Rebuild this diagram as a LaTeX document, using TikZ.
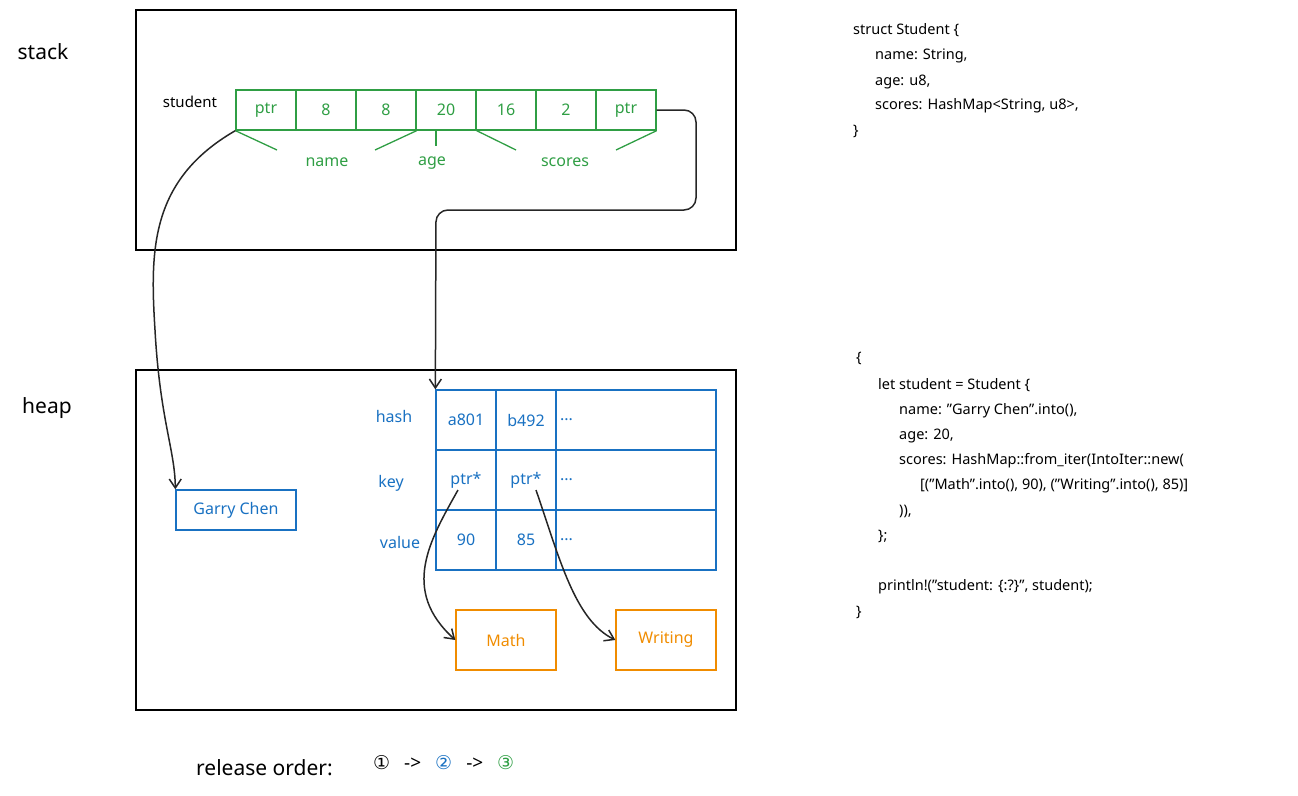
\documentclass[tikz,border=0pt]{standalone}
\usepackage{fontspec}
\usetikzlibrary{arrows.meta}
\setmainfont{Noto Sans}
\newfontfamily\symfont{DejaVu Sans}
\definecolor{sgreen}{HTML}{2F9E44}
\definecolor{hblue}{HTML}{1971C2}
\definecolor{sorange}{HTML}{F08C00}
\newcommand\etcdots{...}
\newcommand\dq{{\char34}}
\tikzset{
  frame/.style={draw, line width=1.3pt},
  cell/.style={draw=sgreen, line width=1.3pt, minimum width=60pt, minimum height=40pt, text=sgreen, font=\fontsize{16}{20}\selectfont, inner sep=0pt},
  hcell/.style={draw=hblue, line width=1.3pt, minimum width=60pt, minimum height=60pt, text=hblue, font=\fontsize{16}{20}\selectfont, inner sep=0pt},
  blab/.style={text=hblue, font=\fontsize{16}{20}\selectfont},
  glab/.style={text=sgreen, font=\fontsize{16}{20}\selectfont},
  obox/.style={draw=sorange, line width=1.3pt, minimum width=100pt, minimum height=60pt, text=sorange, font=\fontsize{16}{20}\selectfont},
  code/.style={anchor=west, font=\fontsize{14.5}{18}\selectfont, inner sep=0pt},
  link/.style={-{Straight Barb[length=9pt,width=12pt]}, line width=1.5pt, black!85},
}
\begin{document}
\begin{tikzpicture}[x=1pt, y=-1pt]
  \useasboundingbox (0,0) rectangle (1298,795);

  % stack and heap frames
  \draw[frame] (136,10) rectangle (736,250);
  \draw[frame] (136,370) rectangle (736,710);
  \node[font=\fontsize{21}{26}\selectfont] (stack) at (43,52) {stack};
  \node[font=\fontsize{21}{26}\selectfont] (heap) at (47,408) {heap};

  % student on the stack
  \node[font=\fontsize{15}{19}\selectfont] (student) at (190,102) {student};
  \foreach \t [count=\i] in {ptr,8,8,20,16,2,ptr}
    \node[cell] (s\i) at (206+60*\i,110) {\t};
  \draw[sgreen, line width=1.3pt] (s1.south west) -- (277,150);
  \draw[sgreen, line width=1.3pt] (s3.south east) -- (375,150);
  \draw[sgreen, line width=1.3pt] (436,130) -- (436,146);
  \draw[sgreen, line width=1.3pt] (s4.south east) -- (516,150);
  \draw[sgreen, line width=1.3pt] (s7.south east) -- (616,150);
  \node[glab] (name) at (327,162) {name};
  \node[glab] (age) at (432,163) {age};
  \node[glab] (scores) at (565,162) {scores};

  % heap table
  \foreach \r/\a/\b in {1/a801/b492,2/ptr*/ptr*,3/90/85} {
    \node[hcell] (h\r a) at (466,360+60*\r) {\a};
    \node[hcell] (h\r b) at (526,360+60*\r) {\b};
    \node[hcell, minimum width=160pt, text width=152pt, align=left] (h\r c) at (636,360+60*\r) {\etcdots};
  }
  \node[blab] (hash) at (394,416) {hash};
  \node[blab] (key) at (391,483) {key};
  \node[blab] (value) at (400,542) {value};

  \node[draw=hblue, line width=1.3pt, minimum width=120pt, minimum height=40pt, text=hblue, font=\fontsize{16}{20}\selectfont] (garry) at (236,510) {Garry Chen};
  \node[obox] (math) at (506,640) {Math};
  \node[obox] (writing) at (666,640) {Writing};

  % pointers
  \coordinate (turn) at (696,210);
  \draw[link] (s1.south west) .. controls (150,180) and (150,250) .. (155,330) .. controls (160,420) and (175,450) .. (garry.north west);
  \draw[link, rounded corners=12pt] (s7.east) -- (696,110) -- (turn) -- (436,210) -- (h1a.north west);
  \draw[link] (h2a.center) ++(-8,10) .. controls (430,540) and (400,590) .. (math.west);
  \draw[link] (h2b.center) ++(10,10) .. controls (560,560) and (575,620) .. (writing.west);

  % code
  \node[code] (c1) at (853,30) {struct Student \{};
  \node[code] (c2) at (875,56) {name: String,};
  \node[code] (c3) at (875,82) {age: u8,};
  \node[code] (c4) at (875,106) {scores: HashMap<String, u8>,};
  \node[code] (c5) at (853,131) {\}};

  \node[code] (d1) at (856,358) {\{};
  \node[code] (d2) at (878,385) {let student = Student \{};
  \node[code] (d3) at (899,411) {name: \dq Garry Chen\dq.into(),};
  \node[code] (d4) at (899,436) {age: 20,};
  \node[code] (d5) at (899,461) {scores: HashMap::from\_iter(IntoIter::new(};
  \node[code] (d6) at (920,486) {[(\dq Math\dq.into(), 90), (\dq Writing\dq.into(), 85)]};
  \node[code] (d7) at (899,511) {)),};
  \node[code] (d8) at (878,536) {\};};
  \node[code] (d9) at (878,587) {println!(\dq student: \{:?\}\dq, student);};
  \node[code] (d10) at (856,612) {\}};

  % release order
  \node[anchor=west, font=\fontsize{21}{26}\selectfont, inner sep=0pt] (rel) at (196,768) {release order:};
  \node[anchor=west, inner sep=0pt, font=\fontsize{19}{22}\selectfont] (order) at (373,763)
    {{\symfont ①}\hspace{14pt}->\hspace{14pt}\textcolor{hblue}{\symfont ②}\hspace{14pt}->\hspace{14pt}\textcolor{sgreen}{\symfont ③}};
\end{tikzpicture}
\end{document}
